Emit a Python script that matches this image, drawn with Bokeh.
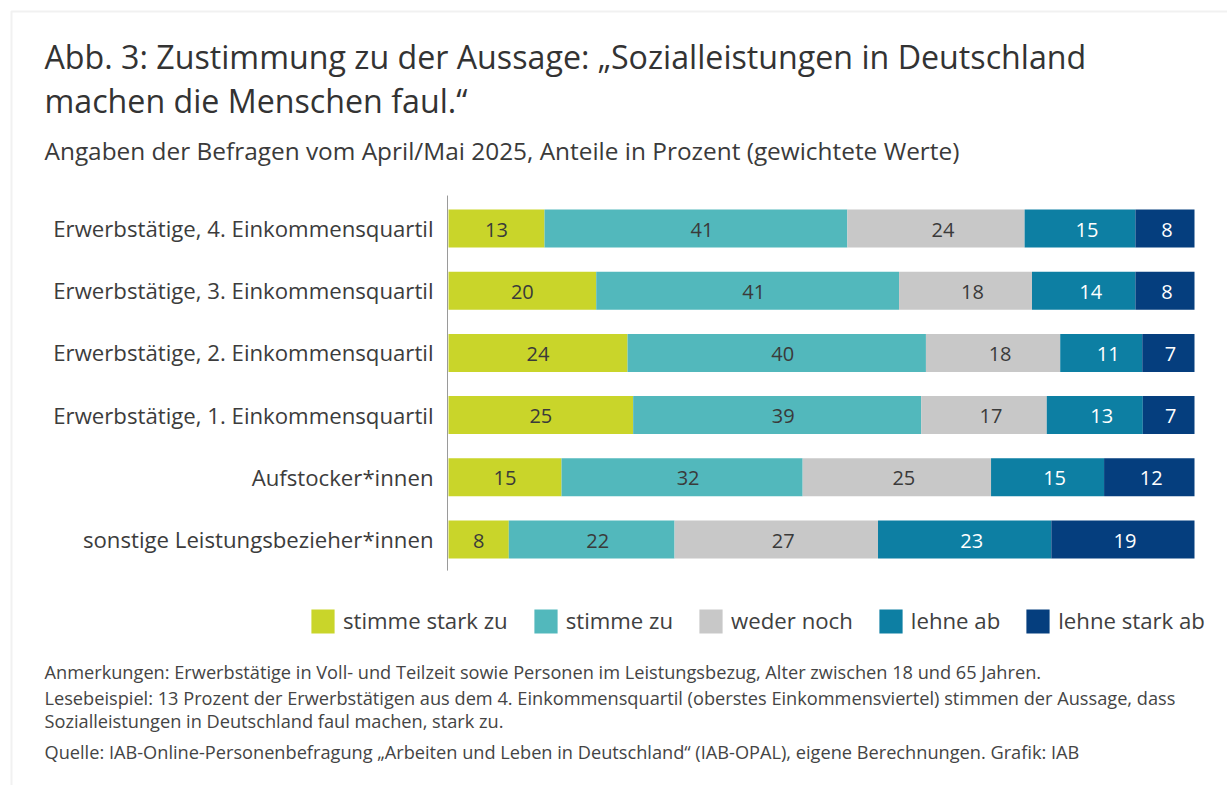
from bokeh.plotting import figure
from bokeh.models import ColumnDataSource, Label, Legend, LegendItem, BoxAnnotation, Range1d
from bokeh.embed import file_html
from bokeh.resources import INLINE
from bokeh.core.properties import value

categories = [
    "Erwerbstätige, 4. Einkommensquartil",
    "Erwerbstätige, 3. Einkommensquartil",
    "Erwerbstätige, 2. Einkommensquartil",
    "Erwerbstätige, 1. Einkommensquartil",
    "Aufstocker*innen",
    "sonstige Leistungsbezieher*innen",
]
series = ["stimme stark zu", "stimme zu", "weder noch", "lehne ab", "lehne stark ab"]
stimme_stark_zu = [13, 20, 24, 25, 15, 8]
stimme_zu = [41, 41, 40, 39, 32, 22]
weder_noch = [24, 18, 18, 17, 25, 27]
lehne_ab = [15, 14, 11, 13, 15, 23]
lehne_stark_ab = [8, 8, 7, 7, 12, 19]

title_lines = [
    "Abb. 3: Zustimmung zu der Aussage: „Sozialleistungen in Deutschland",
    "machen die Menschen faul.“",
]
subtitle = "Angaben der Befragen vom April/Mai 2025, Anteile in Prozent (gewichtete Werte)"
notes = [
    "Anmerkungen: Erwerbstätige in Voll- und Teilzeit sowie Personen im Leistungsbezug, Alter zwischen 18 und 65 Jahren.",
    "Lesebeispiel: 13 Prozent der Erwerbstätigen aus dem 4. Einkommensquartil (oberstes Einkommensviertel) stimmen der Aussage, dass",
    "Sozialleistungen in Deutschland faul machen, stark zu.",
    "Quelle: IAB-Online-Personenbefragung „Arbeiten und Leben in Deutschland“ (IAB-OPAL), eigene Berechnungen. Grafik: IAB",
]

colors = ["#c9d52a", "#52b8bc", "#c8c8c8", "#0d7fa3", "#053e7e"]
label_colors = ["#3a3a3a", "#3a3a3a", "#3a3a3a", "#ffffff", "#ffffff"]
label_dx = [0, 6, 7, 7, 2]   # horizontal nudge of the value labels (px)
FONT = "Open Sans"

# ---- geometry (pixels) ----
W, H = 1227, 785
X0_PX, X100_PX = 448, 1194          # where 0 % and 100 % fall
ROW_PX = 62.2                       # distance between rows
BOTTOM_ROW_PX = 539                 # centre of lowest row
PXU = (X100_PX - X0_PX) / 100.0

values = [stimme_stark_zu, stimme_zu, weder_noch, lehne_ab, lehne_stark_ab]
keys = ["s%d" % i for i in range(len(series))]
n = len(categories)
sums = [sum(v[i] for v in values) for i in range(n)]
data = {"cat": categories, "pos": [n - 1 - i for i in range(n)]}
for k, v in zip(keys, values):
    data[k] = [v[i] / sums[i] * 100 for i in range(n)]
src = ColumnDataSource(data)

ystart = (BOTTOM_ROW_PX - H) / ROW_PX
p = figure(width=W, height=H, output_backend="svg", toolbar_location=None,
           x_range=Range1d(-X0_PX / PXU, (W - X0_PX) / PXU),
           y_range=Range1d(ystart, ystart + H / ROW_PX),
           x_axis_location=None, y_axis_location=None,
           min_border=0, min_border_left=0, min_border_right=0,
           min_border_top=0, min_border_bottom=0)
p.outline_line_color = None
p.grid.visible = False
p.background_fill_color = "white"
p.border_fill_color = "white"

renderers = p.hbar_stack(keys, y="pos", height=0.611, color=colors, source=src, line_color=None)

# axis line at 0
p.segment(x0=[0 - 1 / PXU], x1=[0 - 1 / PXU], y0=[-0.5], y1=[n - 0.5 + 0.03],
          line_color="#9a9a9a", line_width=1)

# category labels
p.text(x=[-15 / PXU] * n, y=data["pos"], text=categories, text_align="right",
       text_baseline="middle", text_font=value(FONT), text_font_size="22.2px",
       text_color="#3c3c3c")

# value labels
lx, ly, lt, lc, ldx = [], [], [], [], []
for i in range(n):
    cum = 0
    for j, k in enumerate(keys):
        w = data[k][i]
        lx.append(cum + w / 2)
        ly.append(data["pos"][i])
        lt.append(str(values[j][i]))
        lc.append(label_colors[j])
        ldx.append(label_dx[j])
        cum += w
lsrc = ColumnDataSource(dict(x=lx, y=ly, t=lt, c=lc, dx=ldx))
p.text(x="x", y="y", text="t", source=lsrc, text_color="c", text_align="center",
       text_baseline="middle", text_font=value(FONT), text_font_size="20px",
       x_offset="dx", y_offset=1)

legend = Legend(items=[LegendItem(label=s, renderers=[r]) for s, r in zip(series, renderers)],
                orientation="horizontal", location=(308, H - 636), padding=0, margin=0,
                glyph_width=29, glyph_height=30, label_standoff=6, spacing=23,
                label_text_font=FONT, label_text_font_size="22.2px", label_text_color="#404040",
                border_line_color=None, background_fill_alpha=0)
p.add_layout(legend)

def lab(text, xi, yi, size, color="#333333", baseline="alphabetic"):
    p.add_layout(Label(x=xi, y=H - yi, x_units="screen", y_units="screen", text=text,
                       text_font=FONT, text_font_size=size, text_color=color,
                       text_baseline=baseline, text_align="left"))

lab(title_lines[0], 44, 56, "32.2px", "#333333")
lab(title_lines[1], 44, 100, "32.2px", "#333333")
lab(subtitle, 44, 150, "24.4px", "#3a3a3a")
for t, yb in zip(notes, [671, 697, 720, 751]):
    lab(t, 44, yb, "18.2px", "#444444")

p.add_layout(BoxAnnotation(left=11, right=W + 50, top=H - 11, bottom=-50,
                           left_units="screen", right_units="screen", top_units="screen",
                           bottom_units="screen", fill_alpha=0, line_color="#d2d2d2", line_width=2))

open("out.html", "w").write(file_html(p, INLINE))
